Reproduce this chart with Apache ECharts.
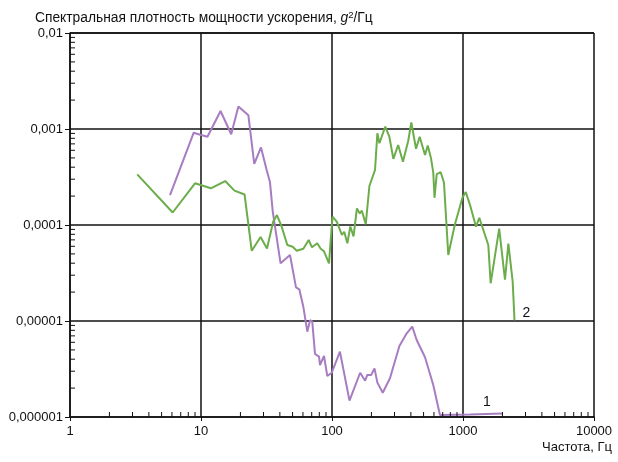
<!DOCTYPE html>
<html>
<head>
<meta charset="utf-8">
<script src="https://cdn.jsdelivr.net/npm/echarts@6/dist/echarts.min.js"></script>
<style>
  html, body { margin: 0; padding: 0; background: #fff; }
  #chart { width: 618px; height: 462px; }
</style>
</head>
<body>
<div id="chart"></div>
<script>
// кривая 1 (фиолетовая): частота, Гц / СПМ, g^2/Гц
const freq1 = [5.8, 8.8, 10.0, 11.2, 14.1, 17.0, 19.3, 23.0, 25.5, 28.7, 31.7, 33.6, 35.3, 40.5,
  47.8, 53.1, 56.3, 60.4, 64.8, 68.0, 70.7, 74.2, 79.6, 81.0, 86.9, 92.1, 99.5, 115, 136, 164,
  179, 186, 199, 211, 222, 244, 277, 327, 372, 410, 443, 513, 593, 667, 1130, 2020];
const psd1 = [2.05e-4, 9.15e-4, 8.66e-4, 8.31e-4, 1.54e-3, 8.81e-4, 1.72e-3, 1.39e-3, 4.32e-4,
  6.42e-4, 3.74e-4, 2.81e-4, 1.38e-4, 3.99e-5, 4.87e-5, 2.24e-5, 2.14e-5, 1.41e-5, 7.74e-6,
  1.02e-5, 9.84e-6, 4.53e-6, 4.25e-6, 3.48e-6, 4.32e-6, 2.67e-6, 2.89e-6, 4.79e-6, 1.48e-6,
  2.89e-6, 2.39e-6, 2.74e-6, 2.74e-6, 3.21e-6, 2.28e-6, 1.79e-6, 2.53e-6, 5.49e-6, 7.44e-6,
  8.73e-6, 6.34e-6, 4.19e-6, 2.15e-6, 1.05e-6, 1.06e-6, 1.09e-6];

// кривая 2 (зелёная)
const freq2 = [3.26, 6.08, 9.0, 11.9, 15.3, 18.0, 21.5, 24.4, 28.5, 31.9, 35.6, 38.0, 41.3, 45.6,
  50.1, 53.8, 60.4, 66.4, 70.3, 77.2, 82.0, 86.9, 94.9, 97.7, 101, 109, 119, 124, 131, 138, 146,
  155, 163, 169, 181, 193, 213, 222, 230, 255, 274, 294, 320, 348, 382, 403, 438, 467, 513, 538,
  570, 593, 606, 630, 676, 716, 772, 865, 991, 1050, 1137, 1257, 1332, 1560, 1626, 1889, 2092,
  2219, 2395, 2473];
const psd2 = [3.37e-4, 1.35e-4, 2.72e-4, 2.41e-4, 2.87e-4, 2.28e-4, 2.08e-4, 5.39e-5, 7.5e-5,
  5.69e-5, 1.09e-4, 1.27e-4, 9.6e-5, 6.19e-5, 5.94e-5, 5.4e-5, 5.66e-5, 6.98e-5, 5.86e-5,
  6.45e-5, 5.66e-5, 5.32e-5, 3.99e-5, 6.98e-5, 1.22e-4, 1.08e-4, 7.87e-5, 8.51e-5, 6.45e-5,
  9.64e-5, 7.62e-5, 1.49e-4, 1.32e-4, 1.41e-4, 1.02e-4, 2.55e-4, 3.74e-4, 9.02e-4, 7.1e-4,
  1.06e-3, 8.31e-4, 4.89e-4, 6.81e-4, 4.56e-4, 7.54e-4, 1.17e-3, 6.22e-4, 8.31e-4, 5.36e-4,
  6.73e-4, 4.95e-4, 3.52e-4, 1.92e-4, 3.38e-4, 3.55e-4, 2.75e-4, 4.87e-5, 1.0e-4, 1.93e-4,
  2.21e-4, 1.58e-4, 9.6e-5, 1.19e-4, 6.19e-5, 2.47e-5, 9.15e-5, 2.69e-5, 6.39e-5, 2.57e-5,
  1.02e-5];

const xTicks = [1, 10, 100, 1000, 10000];
const xTickLabels = ['1', '10', '100', '1000', '10000'];
const yTicks = [1e-6, 1e-5, 1e-4, 1e-3, 1e-2];
const yTickLabels = ['0,000001', '0,00001', '0,0001', '0,001', '0,01'];

const fontFamily = '"Liberation Sans", Arial, sans-serif';
const purple = '#a77cc1';
const green = '#6cad4b';

// мелкие деления логарифмической шкалы (2..9 в каждой декаде)
const minorTicks = [];
for (let d = 0; d < 4; d++) {
  for (let k = 2; k <= 9; k++) {
    minorTicks.push([k * Math.pow(10, d), yTicks[0], 0]);
    minorTicks.push([xTicks[0], k * Math.pow(10, d - 6), 1]);
  }
}

function pickLabel(ticks, labels, v) {
  const e = Math.log10(v);
  for (let i = 0; i < ticks.length; i++) {
    if (Math.abs(Math.log10(ticks[i]) - e) < 1e-6) return labels[i];
  }
  return '';
}

const chart = echarts.init(document.getElementById('chart'));
chart.setOption({
  animation: false,
  textStyle: { fontFamily: fontFamily },
  title: {
    left: 30,
    top: 5,
    text: '{a|Спектральная плотность мощности ускорения, }{g|g}{s|2}{a|/Гц}',
    textStyle: {
      fontWeight: 'normal',
      rich: {
        a: { fontSize: 13.8, color: '#111', fontWeight: 'normal', fontFamily: fontFamily },
        g: { fontSize: 13.8, color: '#111', fontWeight: 'normal', fontStyle: 'italic', fontFamily: fontFamily },
        s: { fontSize: 9.5, color: '#111', fontWeight: 'normal', padding: [0, 0, 7, 0], fontFamily: fontFamily }
      }
    }
  },
  graphic: [{
    type: 'text',
    right: 6,
    top: 441,
    style: { text: 'Частота, Гц', fontSize: 13, fill: '#111', fontFamily: fontFamily }
  }],
  grid: { left: 70, right: 24, top: 33, bottom: 45 },
  xAxis: {
    type: 'log',
    logBase: 10,
    min: 1,
    max: 10000,
    axisLine: { show: true, lineStyle: { color: '#111', width: 1.5 } },
    axisTick: { show: true, length: 4, lineStyle: { color: '#111' } },
    axisLabel: {
      margin: 8, fontSize: 13, color: '#111',
      formatter: v => pickLabel(xTicks, xTickLabels, v)
    },
    splitLine: { show: true, lineStyle: { color: '#111', width: 1.5 } }
  },
  yAxis: {
    type: 'log',
    logBase: 10,
    min: 1e-6,
    max: 1e-2,
    axisLine: { show: true, lineStyle: { color: '#111', width: 1.5 } },
    axisTick: { show: true, length: 5, lineStyle: { color: '#111' } },
    axisLabel: {
      margin: 7, fontSize: 13, color: '#111',
      formatter: v => pickLabel(yTicks, yTickLabels, v)
    },
    splitLine: { show: true, lineStyle: { color: '#111', width: 1.5 } }
  },
  series: [
    {
      name: '1',
      type: 'line',
      data: freq1.map((f, i) => [f, psd1[i]]),
      showSymbol: false,
      lineStyle: { color: purple, width: 2 },
      endLabel: {
        show: true, formatter: '1', fontSize: 14, color: '#111',
        offset: [-28, -11], fontFamily: fontFamily
      },
      z: 3
    },
    {
      name: '2',
      type: 'line',
      data: freq2.map((f, i) => [f, psd2[i]]),
      showSymbol: false,
      lineStyle: { color: green, width: 2 },
      endLabel: {
        show: true, formatter: '2', fontSize: 14, color: '#111',
        offset: [0, -7], fontFamily: fontFamily
      },
      z: 3
    },
    {
      type: 'custom',
      silent: true,
      data: minorTicks,
      renderItem: (params, api) => {
        const p = api.coord([api.value(0), api.value(1)]);
        const vert = api.value(2) === 0;
        return {
          type: 'line',
          shape: vert
            ? { x1: p[0], y1: p[1], x2: p[0], y2: p[1] - 5 }
            : { x1: p[0], y1: p[1], x2: p[0] + 5, y2: p[1] },
          style: { stroke: '#111', lineWidth: 1 }
        };
      },
      z: 4
    }
  ]
});
</script>
</body>
</html>
